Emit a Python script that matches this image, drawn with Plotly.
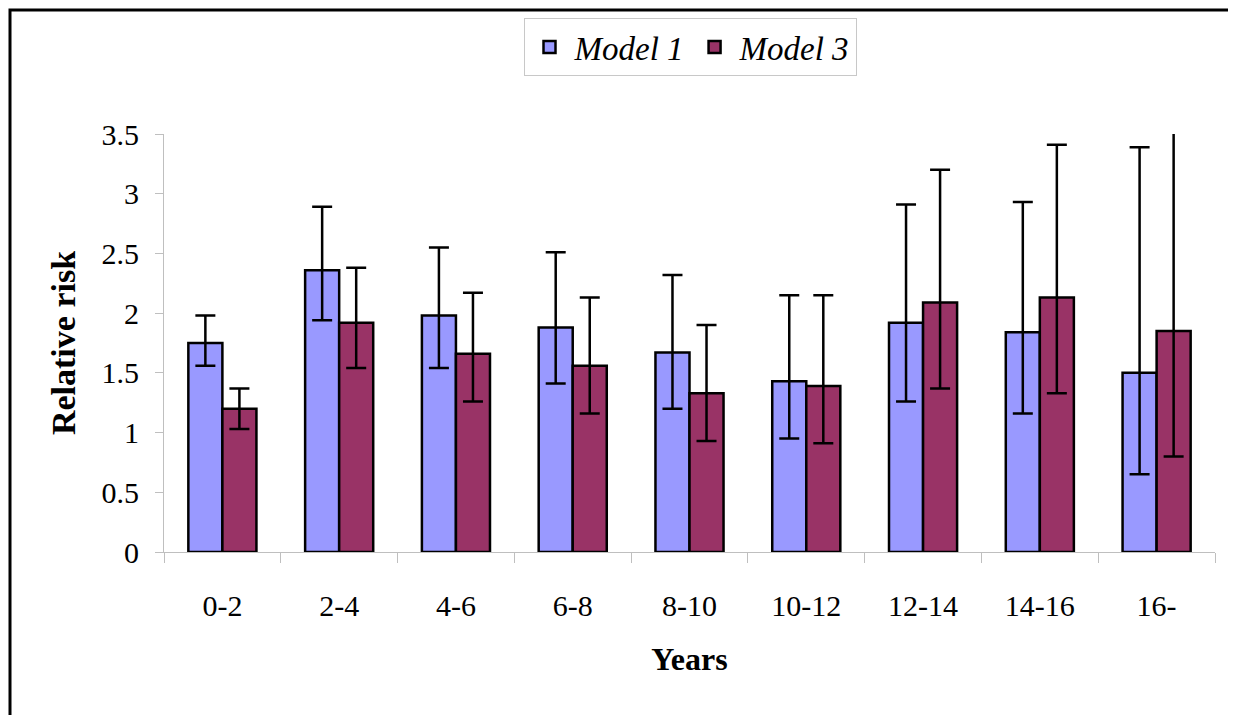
import plotly.graph_objects as go

categories = ["0-2", "2-4", "4-6", "6-8", "8-10", "10-12", "12-14", "14-16", "16-"]

model1 = [1.75, 2.36, 1.98, 1.88, 1.67, 1.43, 1.92, 1.84, 1.50]
model1_upper = [1.98, 2.89, 2.55, 2.51, 2.32, 2.15, 2.91, 2.93, 3.39]
model1_lower = [1.56, 1.94, 1.54, 1.41, 1.20, 0.95, 1.26, 1.16, 0.65]

model3 = [1.20, 1.92, 1.66, 1.56, 1.33, 1.39, 2.09, 2.13, 1.85]
model3_upper = [1.37, 2.38, 2.17, 2.13, 1.90, 2.15, 3.20, 3.41, 4.30]
model3_lower = [1.03, 1.54, 1.26, 1.16, 0.93, 0.91, 1.37, 1.33, 0.80]

y_ticks = [0, 0.5, 1, 1.5, 2, 2.5, 3, 3.5]
y_tick_text = ["0", "0.5", "1", "1.5", "2", "2.5", "3", "3.5"]

SERIF = "Liberation Serif, Times New Roman, serif"


def err(vals, up, lo):
    return dict(
        type="data",
        symmetric=False,
        array=[u - v for u, v in zip(up, vals)],
        arrayminus=[v - l for v, l in zip(vals, lo)],
        color="black",
        thickness=2.5,
        width=10,
    )


fig = go.Figure()
fig.add_trace(go.Bar(
    name="Model 1", x=categories, y=model1,
    marker=dict(color="#9999FF", line=dict(color="black", width=2.5)),
    error_y=err(model1, model1_upper, model1_lower),
))
fig.add_trace(go.Bar(
    name="Model 3", x=categories, y=model3,
    marker=dict(color="#993366", line=dict(color="black", width=2.5)),
    error_y=err(model3, model3_upper, model3_lower),
))

# page body has an 8px margin, so figure coords = window coords - 8
OFF = 8
W, H = 1236, 715
left_w, right_w, top_w, bottom_w = 164, 1215, 134, 552
ml = left_w - OFF
mt = top_w - OFF
mr = W - (right_w - OFF)
mb = H - (bottom_w - OFF)
pw = W - ml - mr
ph = H - mt - mb


def px_x(xw):
    return (xw - OFF - ml) / pw


def px_y(yw):
    return (H - mb - (yw - OFF)) / ph


fig.update_layout(
    width=W, height=H,
    margin=dict(l=ml, r=mr, t=mt, b=mb, autoexpand=False),
    paper_bgcolor="white", plot_bgcolor="white",
    barmode="group", bargap=0.417, bargroupgap=0,
    font=dict(family=SERIF, color="black", size=28),
    showlegend=True,
    legend=dict(
        orientation="h", x=px_x(690), xanchor="center", y=px_y(18), yanchor="top",
        bordercolor="#c8c8c8", borderwidth=1, bgcolor="white",
        font=dict(family=SERIF, size=33, color="black", style="italic"),
        itemwidth=40, tracegroupgap=0,
    ),
    xaxis=dict(
        type="category",
        showline=True, linecolor="#bfbfbf", linewidth=1,
        ticks="outside", tickson="boundaries", ticklen=10, tickcolor="#bfbfbf",
        tickfont=dict(family=SERIF, size=30),
        ticklabelstandoff=27,
        showgrid=False, zeroline=False,
        title=dict(text="<b>Years</b>", font=dict(family=SERIF, size=32), standoff=26),
    ),
    yaxis=dict(
        range=[0, 3.5], tickvals=y_ticks, ticktext=y_tick_text,
        showline=True, linecolor="#bfbfbf", linewidth=1,
        ticks="outside", ticklen=8, tickcolor="#bfbfbf",
        tickfont=dict(family=SERIF, size=30),
        ticklabelstandoff=10,
        showgrid=False, zeroline=False,
        title=dict(text="<b>Relative risk</b>", font=dict(family=SERIF, size=34), standoff=15),
    ),
    shapes=[dict(
        type="rect", xref="paper", yref="paper",
        x0=px_x(10), x1=px_x(1270), y0=px_y(760), y1=px_y(10),
        line=dict(color="black", width=3), fillcolor="rgba(0,0,0,0)",
    )],
)

fig.write_html("out.html")
